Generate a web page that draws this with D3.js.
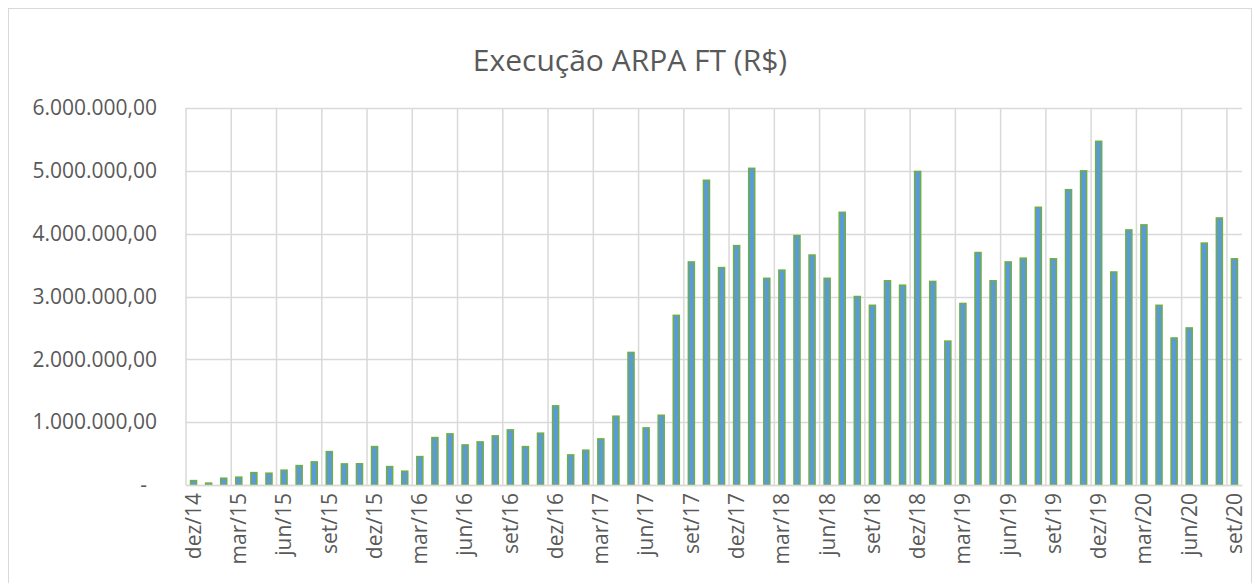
<!DOCTYPE html>
<html>
<head>
<meta charset="utf-8">
<script src="https://cdn.jsdelivr.net/npm/d3@7"></script>
<style>
  body { margin: 0; background: #fff; }
  svg { display: block; font-family: "Open Sans", sans-serif; }
</style>
</head>
<body>
<div id="chart"></div>
<script>
// Monthly labels, dez/14 .. set/20
const months = [
  "dez/14",
  "jan/15", "fev/15", "mar/15", "abr/15", "mai/15", "jun/15", "jul/15", "ago/15", "set/15", "out/15", "nov/15", "dez/15",
  "jan/16", "fev/16", "mar/16", "abr/16", "mai/16", "jun/16", "jul/16", "ago/16", "set/16", "out/16", "nov/16", "dez/16",
  "jan/17", "fev/17", "mar/17", "abr/17", "mai/17", "jun/17", "jul/17", "ago/17", "set/17", "out/17", "nov/17", "dez/17",
  "jan/18", "fev/18", "mar/18", "abr/18", "mai/18", "jun/18", "jul/18", "ago/18", "set/18", "out/18", "nov/18", "dez/18",
  "jan/19", "fev/19", "mar/19", "abr/19", "mai/19", "jun/19", "jul/19", "ago/19", "set/19", "out/19", "nov/19", "dez/19",
  "jan/20", "fev/20", "mar/20", "abr/20", "mai/20", "jun/20", "jul/20", "ago/20", "set/20"
];

// Execution values (R$)
const execucao = [
  70000,
  30000, 108000, 125000, 197000, 188000, 236000, 309000, 368000, 532000, 336000, 338000, 611000,
  293000, 220000, 452000, 755000, 814000, 638000, 686000, 782000, 877000, 611000, 825000, 1260000,
  479000, 554000, 734000, 1095000, 2110000, 909000, 1110000, 2700000, 3550000, 4850000, 3460000, 3810000,
  5040000, 3290000, 3420000, 3970000, 3660000, 3290000, 4340000, 3000000, 2860000, 3250000, 3180000, 4990000,
  3240000, 2290000, 2890000, 3700000, 3250000, 3550000, 3610000, 4420000, 3600000, 4700000, 5000000, 5470000,
  3390000, 4060000, 4140000, 2860000, 2340000, 2500000, 3850000, 4250000, 3600000
];

const yTicks = [0, 1000000, 2000000, 3000000, 4000000, 5000000, 6000000];

const width = 1259, height = 583;
const margin = { top: 108, right: 17, bottom: 98, left: 186 };
const innerW = width - margin.left - margin.right;
const innerH = height - margin.top - margin.bottom;

const ptBR = d3.formatLocale({ decimal: ",", thousands: ".", grouping: [3], currency: ["R$", ""] });
const fmt = ptBR.format(",.2f");

const svg = d3.select("#chart")
  .append("svg")
  .attr("width", width)
  .attr("height", height);

// chart frame
svg.append("rect")
  .attr("x", 8.5).attr("y", 8.5)
  .attr("width", 1243).attr("height", 620)
  .attr("fill", "none")
  .attr("stroke", "#d9d9d9");

svg.append("text")
  .attr("x", 630)
  .attr("y", 71)
  .attr("text-anchor", "middle")
  .attr("fill", "#595959")
  .style("font-size", "30px")
  .text("Execução ARPA FT (R$)");

const g = svg.append("g").attr("transform", `translate(${margin.left},${margin.top})`);

const x = d3.scaleBand()
  .domain(months)
  .range([0, innerW])
  .paddingInner(0.5)
  .paddingOuter(0.25);

const y = d3.scaleLinear()
  .domain([0, 6000000])
  .range([innerH, 0]);

const step = x.step();

// horizontal gridlines
g.append("g")
  .selectAll("line")
  .data(yTicks)
  .join("line")
  .attr("x1", 0).attr("x2", innerW)
  .attr("y1", d => Math.round(y(d)) + 0.5)
  .attr("y2", d => Math.round(y(d)) + 0.5)
  .attr("stroke", "#d9d9d9")
  .attr("stroke-width", 1.5);

// vertical gridlines every 3 months, on category boundaries
const vIdx = months.map((m, i) => i).filter(i => i % 3 === 0);
g.append("g")
  .selectAll("line")
  .data(vIdx)
  .join("line")
  .attr("x1", i => x(months[i]) - step * 0.25)
  .attr("x2", i => x(months[i]) - step * 0.25)
  .attr("y1", 0).attr("y2", innerH)
  .attr("stroke", "#d9d9d9")
  .attr("stroke-width", 1.5);

// y labels
g.append("g")
  .call(d3.axisLeft(y).tickValues(yTicks).tickSize(0).tickPadding(29)
    .tickFormat(d => d === 0 ? "-" : fmt(d)))
  .attr("font-family", null)
  .attr("font-size", null)
  .call(a => a.select(".domain").remove())
  .call(a => a.selectAll("text")
    .attr("fill", "#595959")
    .style("font-size", "21px")
    .attr("x", d => d === 0 ? -39 : -29));

// bars
g.append("g")
  .selectAll("rect")
  .data(execucao)
  .join("rect")
  .attr("x", (d, i) => x(months[i]) + 0.75)
  .attr("width", x.bandwidth() - 1.5)
  .attr("y", d => y(d))
  .attr("height", d => innerH - y(d))
  .attr("fill", "#5b9bd5")
  .attr("stroke", "#70ad47")
  .attr("stroke-width", 1.5);

// x labels every 3 months
g.append("g")
  .attr("transform", `translate(0,${innerH})`)
  .call(d3.axisBottom(x).tickValues(months.filter((m, i) => i % 3 === 0)).tickSize(0))
  .attr("font-family", null)
  .attr("font-size", null)
  .call(a => a.select(".domain").attr("stroke", "#d9d9d9").attr("stroke-width", 1.5))
  .call(a => a.selectAll("text")
    .attr("fill", "#595959")
    .style("font-size", "21px")
    .attr("text-anchor", "end")
    .attr("transform", "rotate(-90)")
    .attr("x", -8)
    .attr("y", 0)
    .attr("dy", "0.35em"));
</script>
</body>
</html>
